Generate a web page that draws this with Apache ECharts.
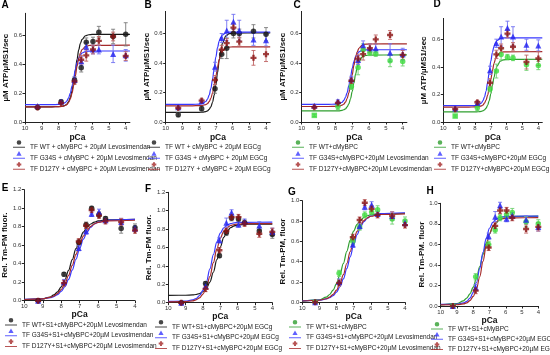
<!DOCTYPE html>
<html><head><meta charset="utf-8">
<script src="https://cdn.jsdelivr.net/npm/echarts@6/dist/echarts.min.js"></script>
<style>html,body{margin:0;padding:0;background:#fff}#c{width:550px;height:355px}</style>
</head><body><div id="c"></div>
<script>
// ---------- DATA ----------
const pCa = [9.25, 7.85, 7.05, 6.65, 6.35, 5.95, 5.6, 4.75, 4.0];
const fitPCaSteep = [10, 8.4, 8.0, 7.8, 7.6, 7.5, 7.4, 7.3, 7.2, 7.1, 7.0, 6.9, 6.8, 6.7, 6.6, 6.4, 6.2, 6.0, 3.75];
const fitPCaShallow = [10, 9.0, 8.6, 8.4, 8.2, 8.0, 7.8, 7.6, 7.4, 7.2, 7.0, 6.8, 6.6, 6.4, 6.2, 6.0, 5.5, 4];
const xTicks = [10, 9, 8, 7, 6, 5, 4];
const yTicksATP = [0, 0.2, 0.4, 0.6];
const yTicksFluor12 = [0, 0.2, 0.4, 0.6, 0.8, 1.0, 1.2];
const yTicksFluor10 = [0, 0.2, 0.4, 0.6, 0.8, 1.0];

// A: ATPase + Levosimendan
const aWT = [0.10, 0.14, 0.29, 0.375, 0.55, 0.555, 0.62, 0.59, 0.605];
const aWTe = [0.012, 0.012, 0.02, 0.03, 0.03, 0.03, 0.04, 0.05, 0.08];
const aWTf = [0.105, 0.105, 0.106, 0.108, 0.115, 0.124, 0.140, 0.168, 0.213, 0.277, 0.355, 0.433, 0.497, 0.542, 0.570, 0.595, 0.602, 0.604, 0.605];
const aG34S = [0.11, 0.14, 0.29, 0.42, 0.52, 0.50, 0.50, 0.47, 0.46];
const aG34Se = [0.01, 0.01, 0.02, 0.03, 0.03, 0.03, 0.03, 0.06, 0.04];
const aG34Sf = [0.12, 0.12, 0.121, 0.124, 0.134, 0.146, 0.167, 0.200, 0.247, 0.305, 0.363, 0.410, 0.443, 0.464, 0.476, 0.486, 0.489, 0.49, 0.49];
const aD127Y = [0.10, 0.13, 0.28, 0.43, 0.46, 0.50, 0.56, 0.59, 0.455];
const aD127Ye = [0.01, 0.01, 0.02, 0.03, 0.04, 0.03, 0.03, 0.03, 0.03];
const aD127Yf = [0.105, 0.105, 0.106, 0.107, 0.114, 0.121, 0.135, 0.159, 0.197, 0.251, 0.318, 0.384, 0.438, 0.476, 0.500, 0.521, 0.528, 0.529, 0.53];
// B: ATPase + EGCg
const bWT = [0.05, 0.09, 0.225, 0.46, 0.50, 0.60, 0.60, 0.615, 0.595];
const bWTe = [0.015, 0.015, 0.03, 0.03, 0.07, 0.03, 0.03, 0.045, 0.045];
const bWTf = [0.065, 0.065, 0.065, 0.067, 0.071, 0.076, 0.086, 0.103, 0.133, 0.182, 0.251, 0.335, 0.419, 0.488, 0.537, 0.584, 0.599, 0.603, 0.605];
const bG34S = [0.10, 0.14, 0.375, 0.57, 0.62, 0.68, 0.62, 0.56, 0.555];
const bG34Se = [0.01, 0.01, 0.03, 0.03, 0.07, 0.05, 0.07, 0.04, 0.04];
const bG34Sf = [0.12, 0.12, 0.121, 0.125, 0.139, 0.155, 0.182, 0.226, 0.289, 0.365, 0.441, 0.504, 0.548, 0.575, 0.591, 0.605, 0.609, 0.61, 0.61];
const bD127Y = [0.095, 0.145, 0.285, 0.49, 0.535, 0.64, 0.545, 0.435, 0.46];
const bD127Ye = [0.01, 0.012, 0.03, 0.03, 0.03, 0.03, 0.03, 0.05, 0.05];
const bD127Yf = [0.11, 0.11, 0.111, 0.112, 0.118, 0.125, 0.138, 0.160, 0.196, 0.248, 0.31, 0.372, 0.424, 0.46, 0.482, 0.502, 0.508, 0.509, 0.51];
// C/D: ATPase WT control
const cWT = [0.045, 0.105, 0.24, 0.37, 0.49, 0.47, 0.465, 0.415, 0.41];
const cWTe = [0.008, 0.02, 0.02, 0.05, 0.04, 0.02, 0.02, 0.04, 0.03];
const cWTf = [0.075, 0.075, 0.075, 0.076, 0.079, 0.083, 0.089, 0.102, 0.123, 0.157, 0.206, 0.265, 0.324, 0.373, 0.407, 0.441, 0.451, 0.454, 0.455];
// E: Tm-PM + Levosimendan
const eWT = [0, 0.285, 0.63, 0.82, 1.0, 0.93, 0.89, 0.78, 0.79];
const eWTe = [0.01, 0.02, 0.03, 0.03, 0.02, 0.03, 0.02, 0.05, 0.04];
const eWTf = [0.011, 0.020, 0.040, 0.062, 0.096, 0.149, 0.227, 0.328, 0.445, 0.562, 0.663, 0.741, 0.794, 0.829, 0.850, 0.862, 0.875, 0.88];
const eG34S = [0, 0.20, 0.57, 0.75, 0.94, 0.96, 0.87, 0.85, 0.78];
const eG34Se = [0.01, 0.03, 0.03, 0.03, 0.03, 0.03, 0.02, 0.04, 0.03];
const eG34Sf = [0.015, 0.021, 0.033, 0.045, 0.066, 0.100, 0.153, 0.230, 0.331, 0.448, 0.564, 0.665, 0.742, 0.794, 0.829, 0.850, 0.872, 0.88];
const eD127Y = [0, 0.19, 0.64, 0.81, 0.98, 0.92, 0.86, 0.85, 0.76];
const eD127Ye = [0.01, 0.03, 0.03, 0.03, 0.03, 0.03, 0.03, 0.04, 0.03];
const eD127Yf = [0.013, 0.020, 0.035, 0.051, 0.078, 0.120, 0.184, 0.273, 0.382, 0.500, 0.609, 0.698, 0.762, 0.804, 0.831, 0.847, 0.864, 0.87];
// F: Tm-PM + EGCg
const fWT = [0, 0.21, 0.51, 0.76, 0.92, 0.91, 0.87, 0.78, 0.74];
const fWTe = [0.01, 0.02, 0.02, 0.03, 0.03, 0.03, 0.03, 0.04, 0.04];
const fWTf = [0.08, 0.081, 0.084, 0.089, 0.099, 0.119, 0.157, 0.224, 0.331, 0.468, 0.604, 0.711, 0.778, 0.816, 0.836, 0.846, 0.853, 0.855];
const fG34S = [0, 0.18, 0.68, 0.87, 0.98, 0.85, 0.88, 0.84, 0.77];
const fG34Se = [0.01, 0.03, 0.03, 0.05, 0.03, 0.03, 0.03, 0.04, 0.04];
const fG34Sf = [0.015, 0.018, 0.030, 0.045, 0.076, 0.133, 0.229, 0.367, 0.523, 0.661, 0.757, 0.814, 0.845, 0.860, 0.868, 0.872, 0.874, 0.875];
const fD127Y = [0, 0.15, 0.57, 0.78, 0.93, 0.93, 0.86, 0.75, 0.77];
const fD127Ye = [0.01, 0.03, 0.03, 0.03, 0.03, 0.03, 0.03, 0.04, 0.04];
const fD127Yf = [0.01, 0.012, 0.020, 0.031, 0.052, 0.094, 0.168, 0.285, 0.435, 0.585, 0.702, 0.776, 0.818, 0.839, 0.850, 0.855, 0.859, 0.86];
// G/H: Tm-PM WT control
const gWT = [0, 0.285, 0.60, 0.74, 0.86, 0.89, 0.91, 0.82, 0.80];
const gWTe = [0.01, 0.03, 0.03, 0.03, 0.03, 0.03, 0.04, 0.05, 0.04];
const gWTf = [0.011, 0.023, 0.050, 0.077, 0.119, 0.184, 0.273, 0.383, 0.502, 0.612, 0.701, 0.766, 0.808, 0.835, 0.852, 0.862, 0.872, 0.875];

// ---------- STYLE / LAYOUT ----------
const FONT = 'Liberation Sans, Arial, sans-serif';
const STY = {
  black: {m: '#111111', l: '#1a1a1a', e: '#7a7a7a'},
  blue:  {m: '#1f1ff0', l: '#3838ff', e: '#7272f2'},
  red:   {m: '#8a1212', l: '#a52a2a', e: '#bf6464'},
  green: {m: '#3cdc3c', l: '#2f9f2f', e: '#70d070'}
};
const SYM = {circle: 'circle', triangle: 'triangle', plus: 'path://M3,0H7V3H10V7H7V10H3V7H0V3H3Z'};
const ICON = {
  circle: 'path://M0,0M12,16M0,7.5H12V8.5H0ZM3.7,3.2A2.3,2.3,0,1,1,8.3,3.2A2.3,2.3,0,1,1,3.7,3.2Z',
  triangle: 'path://M0,0M12,16M0,7.5H12V8.5H0ZM6,0.8L8.6,5.4L3.4,5.4Z',
  plus: 'path://M0,0M12,16M0,7.5H12V8.5H0ZM5,0.9H7V2.2H8.3V4.2H7V5.5H5V4.2H3.7V2.2H5Z'
};

const panels = [
  {L: 'A', lx: 5, ly: 5, grid: {left: 25, top: 13.3, width: 104.9, height: 108.7}, xmin: 3.75, ymax: 0.75, yt: yTicksATP,
   yName: 'µM ATP/µMS1/sec', fitX: fitPCaSteep, leg: {left: 13, top: 139.3, gap: -5}, xg: 11, yg: 9,
   s: [['TF WT + cMyBPC + 20µM Levosimendan', 'black', 'circle', aWT, aWTe, aWTf],
       ['TF G34S + cMyBPC + 20µM Levosimendan', 'blue', 'triangle', aG34S, aG34Se, aG34Sf],
       ['TF D127Y + cMyBPC + 20µM Levosimendan', 'red', 'plus', aD127Y, aD127Ye, aD127Yf]]},
  {L: 'B', lx: 148, ly: 5, grid: {left: 165.7, top: 11.4, width: 104.5, height: 110.6}, xmin: 3.75, ymax: 0.75, yt: yTicksATP,
   yName: 'µM ATP/µMS1/sec', fitX: fitPCaSteep, leg: {left: 148, top: 139.3, gap: -5}, xg: 11, yg: 9,
   s: [['TF WT + cMyBPC + 20µM EGCg', 'black', 'circle', bWT, bWTe, bWTf],
       ['TF G34S + cMyBPC + 20µM EGCg', 'blue', 'triangle', bG34S, bG34Se, bG34Sf],
       ['TF D127Y + cMyBPC + 20µM EGCg', 'red', 'plus', bD127Y, bD127Ye, bD127Yf]]},
  {L: 'C', lx: 297, ly: 5, grid: {left: 301.7, top: 11.4, width: 105.2, height: 110.6}, xmin: 3.75, ymax: 0.75, yt: yTicksATP,
   yName: 'µM ATP/µMS1/sec', fitX: fitPCaSteep, leg: {left: 292, top: 139.3, gap: -5}, sq: true, xg: 11, yg: 9,
   s: [['TF WT+cMyBPC', 'green', 'circle', cWT, cWTe, cWTf],
       ['TF G34S+cMyBPC+20µM Levosimendan', 'blue', 'triangle', aG34S, aG34Se, aG34Sf],
       ['TF D127Y+cMyBPC+20µM Levosimendan', 'red', 'plus', aD127Y, aD127Ye, aD127Yf]]},
  {L: 'D', lx: 437, ly: 4, grid: {left: 443.3, top: 18.4, width: 99, height: 103.9}, xmin: 3.75, ymax: 0.75, yt: yTicksATP,
   yName: 'µM ATP/µMS1/sec', fitX: fitPCaSteep, leg: {left: 434, top: 139.3, gap: -5}, sq: true, xg: 11, yg: 9,
   s: [['TF WT+cMyBPC', 'green', 'circle', cWT, cWTe, cWTf],
       ['TF G34S+cMyBPC+20µM EGCg', 'blue', 'triangle', bG34S, bG34Se, bG34Sf],
       ['TF D127Y+cMyBPC+20µM EGCg', 'red', 'plus', bD127Y, bD127Ye, bD127Yf]]},
  {L: 'E', lx: 5, ly: 188, grid: {left: 24.3, top: 189.7, width: 110.7, height: 111}, xmin: 4, ymax: 1.2, yt: yTicksFluor12,
   yName: 'Rel. Tm-PM fluor.', fitX: fitPCaShallow, leg: {left: 5, top: 317, gap: -5.3}, xg: 9, yg: 10,
   s: [['TF WT+S1+cMyBPC+20µM Levosimendan', 'black', 'circle', eWT, eWTe, eWTf],
       ['TF G34S+S1+cMyBPC+20µM Levosimendan', 'blue', 'triangle', eG34S, eG34Se, eG34Sf],
       ['TF D127Y+S1+cMyBPC+20µM Levosimendan', 'red', 'plus', eD127Y, eD127Ye, eD127Yf]]},
  {L: 'F', lx: 148, ly: 189, grid: {left: 168.3, top: 192.3, width: 104, height: 110.4}, xmin: 4, ymax: 1.2, yt: yTicksFluor12,
   yName: 'Rel. Tm-PM fluor.', fitX: fitPCaShallow, leg: {left: 155, top: 319, gap: -5.3}, xg: 9, yg: 10,
   s: [['TF WT+S1+cMyBPC+20µM EGCg', 'black', 'circle', fWT, fWTe, fWTf],
       ['TF G34S+S1+cMyBPC+20µM EGCg', 'blue', 'triangle', fG34S, fG34Se, fG34Sf],
       ['TF D127Y+S1+cMyBPC+20µM EGCg', 'red', 'plus', fD127Y, fD127Ye, fD127Yf]]},
  {L: 'G', lx: 292, ly: 192, grid: {left: 302.3, top: 200.7, width: 102.7, height: 101.6}, xmin: 4, ymax: 1.0, yt: yTicksFluor10,
   yName: 'Rel. Tm-PM, fluor', fitX: fitPCaShallow, leg: {left: 289, top: 319, gap: -5.3}, xg: 8, yg: 10,
   s: [['TF WT+S1+cMyBPC', 'green', 'circle', gWT, gWTe, gWTf],
       ['TF G34S+S1+cMyBPC+20µM Levosimendan', 'blue', 'triangle', eG34S, eG34Se, eG34Sf],
       ['TF D127Y+S1+cMyBPC+20µM Levosimendan', 'red', 'plus', eD127Y, eD127Ye, eD127Yf]]},
  {L: 'H', lx: 430, ly: 191, grid: {left: 440.7, top: 203.3, width: 97.6, height: 102.7}, xmin: 4, ymax: 1.0, yt: yTicksFluor10,
   yName: 'Rel. Tm-PM. fluor', fitX: fitPCaShallow, leg: {left: 431, top: 321, gap: -5.8}, xg: 6, yg: 10,
   s: [['TF WT+S1+cMyBPC', 'green', 'circle', gWT, gWTe, gWTf],
       ['TF G34S+S1+cMyBPC+20µM EGCg', 'blue', 'triangle', fG34S, fG34Se, fG34Sf],
       ['TF D127Y+S1+cMyBPC+20µM EGCg', 'red', 'plus', fD127Y, fD127Ye, fD127Yf]]}
];

// ---------- BUILD ----------
const grids = [], xAxes = [], yAxes = [], series = [], legends = [], graphics = [];
panels.forEach((p, i) => {
  grids.push(Object.assign({containLabel: false}, p.grid));
  xAxes.push({
    type: 'value', gridIndex: i, inverse: true, min: p.xmin, max: 10,
    name: 'pCa', nameLocation: 'middle', nameGap: p.xg,
    nameTextStyle: {fontWeight: 'bold', fontSize: 8.5, color: '#111', fontFamily: FONT},
    axisLine: {lineStyle: {color: '#222', width: 1}},
    axisTick: {length: 2.5, lineStyle: {color: '#222'}, customValues: xTicks},
    axisLabel: {fontSize: 6, color: '#333', margin: 3, fontFamily: FONT, customValues: xTicks},
    splitLine: {show: false}
  });
  yAxes.push({
    type: 'value', gridIndex: i, min: 0, max: p.ymax, interval: 0.2,
    name: p.yName, nameLocation: 'middle', nameRotate: 90, nameGap: p.yg,
    nameTextStyle: {fontWeight: 'bold', fontSize: 8, color: '#111', fontFamily: FONT},
    axisLine: {show: true, lineStyle: {color: '#222', width: 1}},
    axisTick: {show: true, length: 2.5, lineStyle: {color: '#222'}, customValues: p.yt},
    axisLabel: {fontSize: 6, color: '#333', margin: 3, fontFamily: FONT, customValues: p.yt,
                formatter: v => Number(v).toFixed(1)},
    splitLine: {show: false}
  });
  p.s.forEach(([name, col, mk, vals, errs, fit]) => {
    const st = STY[col];
    series.push({
      type: 'line', name: name + ' (fit)', xAxisIndex: i, yAxisIndex: i,
      data: p.fitX.map((x, k) => [x, fit[k]]), smooth: 0.35, smoothMonotone: 'x',
      symbol: 'none', lineStyle: {color: st.l, width: 1.2}, itemStyle: {color: st.l}, silent: true, z: 2, clip: true
    });
  });
  p.s.forEach(([name, col, mk, vals, errs, fit]) => {
    const st = STY[col];
    series.push({
      type: 'custom', name: name + ' (err)', xAxisIndex: i, yAxisIndex: i,
      data: pCa.map((x, k) => [x, vals[k], errs[k]]), encode: {x: 0, y: 1}, silent: true, z: 3,
      renderItem: (params, api) => {
        const x = api.value(0), y = api.value(1), e = api.value(2);
        const a = api.coord([x, y + e]), b = api.coord([x, y - e]);
        const w = 2, style = {stroke: st.e, lineWidth: 0.9};
        return {type: 'group', children: [
          {type: 'line', shape: {x1: a[0], y1: a[1], x2: b[0], y2: b[1]}, style},
          {type: 'line', shape: {x1: a[0] - w, y1: a[1], x2: a[0] + w, y2: a[1]}, style},
          {type: 'line', shape: {x1: b[0] - w, y1: b[1], x2: b[0] + w, y2: b[1]}, style}
        ]};
      }
    });
  });
  p.s.forEach(([name, col, mk, vals, errs, fit]) => {
    const st = STY[col];
    const sym = (p.sq && col === 'green') ? ((v, prm) => prm.dataIndex === 0 ? 'rect' : 'circle') : SYM[mk];
    series.push({
      type: 'scatter', name, xAxisIndex: i, yAxisIndex: i,
      data: pCa.map((x, k) => [x, vals[k]]), symbol: sym,
      symbolSize: mk === 'circle' ? 5.5 : 6, itemStyle: {color: st.m}, z: 4
    });
  });
  legends.push({
    orient: 'vertical', left: p.leg.left, top: p.leg.top, width: 140, height: 80, padding: 0, itemGap: p.leg.gap,
    itemWidth: 12, itemHeight: 16, selectedMode: false,
    itemStyle: {borderWidth: 0},
    textStyle: {fontSize: 6.5, color: '#222', fontFamily: FONT},
    data: p.s.map(([name, col, mk]) => ({name, icon: ICON[mk], itemStyle: {color: STY[col].l}}))
  });
  graphics.push({type: 'text', x: p.lx, y: p.ly,
    style: {text: p.L, font: 'bold 10px ' + FONT, fill: '#000', align: 'center', verticalAlign: 'middle'}});
});

const chart = echarts.init(document.getElementById('c'), null, {renderer: 'canvas'});
chart.setOption({
  animation: false, backgroundColor: '#fff',
  grid: grids, xAxis: xAxes, yAxis: yAxes, series, legend: legends, graphic: graphics
});
</script></body></html>
